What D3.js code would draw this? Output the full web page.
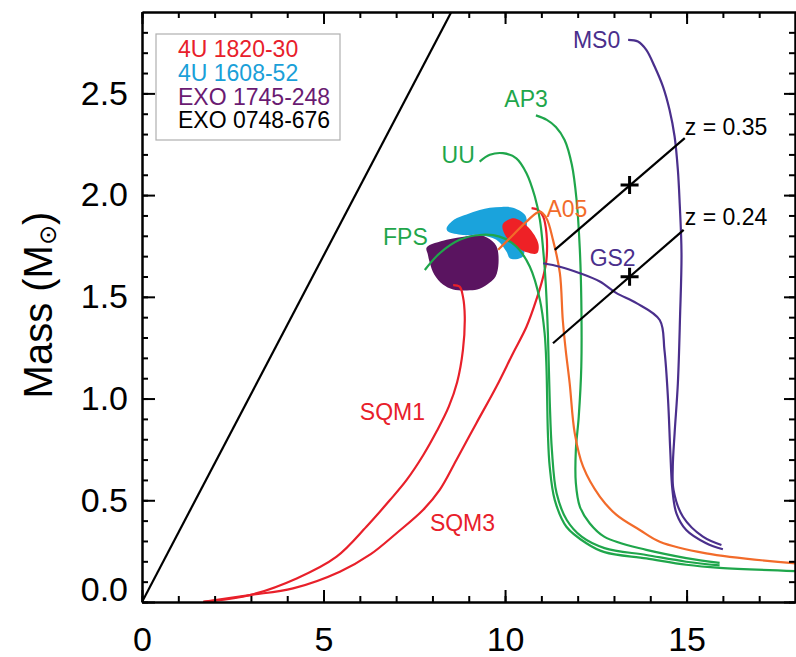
<!DOCTYPE html>
<meta charset="utf-8">
<style>
body { margin: 0; background: #fff; }
svg { font-family: "Liberation Sans", Helvetica, Arial, sans-serif; }
.axis path, .axis line { stroke: #000; stroke-width: 2; }
.axis text { font-size: 34px; fill: #000; }
.curve { fill: none; stroke-width: 2.2; }
.lbl { font-size: 23px; }
</style>
<svg width="796" height="657"></svg>
<script src="https://d3js.org/d3.v7.min.js"></script>
<script>

// radius (km) / mass (Msun) pairs
var sqm1 = [[8.57,1.558],[8.75,1.55],[8.84,1.501],[8.89,1.403],[8.84,1.239],[8.68,1.08],[8.45,0.96],[8.12,0.84],
  [7.74,0.72],[7.29,0.6],[6.83,0.501],[6.18,0.37],[5.36,0.223],[4.26,0.116],[2.97,0.034],[1.69,0.001]];
var sqm3 = [[10.73,1.936],[10.91,1.927],[11.05,1.894],[11.14,1.813],[11.14,1.681],[11.05,1.599],[10.86,1.485],
  [10.59,1.353],[10.22,1.223],[9.76,1.058],[9.21,0.879],[8.66,0.698],[8.2,0.551],[7.74,0.452],[7.01,0.338],
  [6.3,0.235],[5.45,0.149],[4.16,0.067],[2.97,0.034],[1.69,0.001]];
var uu = [[9.3,2.165],[9.58,2.198],[9.94,2.206],[10.31,2.181],[10.59,2.108],[10.82,1.993],[10.96,1.878],[11.05,1.731],
  [11.12,1.567],[11.18,1.321],[11.23,0.993],[11.29,0.747],[11.42,0.534],[11.7,0.403],[12.11,0.321],[12.74,0.265],
  [13.89,0.231],[14.99,0.198],[15.91,0.18]];
var fps = [[7.79,1.632],[8.2,1.714],[8.75,1.78],[9.3,1.804],[9.85,1.796],[10.31,1.747],[10.68,1.649],[10.96,1.485],
  [11.09,1.321],[11.14,1.157],[11.16,0.993],[11.18,0.829],[11.23,0.665],[11.37,0.501],[11.69,0.37],[12.24,0.289],
  [12.74,0.245],[13.89,0.214],[14.99,0.183],[15.91,0.168],[18.0,0.152]];
var ap3 = [[10.85,2.392],[11.15,2.37],[11.4,2.335],[11.64,2.271],[11.84,2.149],[11.97,1.976],[12.06,1.731],[12.1,1.485],
  [12.1,1.157],[12.03,0.911],[11.95,0.747],[11.95,0.584],[12.06,0.469],[12.33,0.387],[12.74,0.32],[13.89,0.256],
  [14.99,0.216],[15.91,0.192]];
var a05 = [[9.81,1.731],[10.22,1.804],[10.59,1.87],[10.96,1.919],[11.14,1.886],[11.32,1.78],[11.51,1.616],[11.59,1.386],
  [11.67,1.239],[11.78,1.075],[11.92,0.829],[12.15,0.665],[12.61,0.518],[13.07,0.428],[13.71,0.354],[14.26,0.296],
  [15.54,0.239],[18.0,0.19]];
var ms0 = [[13.39,2.763],[13.66,2.755],[13.89,2.714],[14.12,2.632],[14.35,2.533],[14.53,2.419],[14.67,2.288],[14.76,2.124],
  [14.81,1.96],[14.86,1.714],[14.82,1.403],[14.76,1.075],[14.67,0.829],[14.62,0.665],[14.64,0.551],[14.9,0.419],
  [15.45,0.321],[15.96,0.28]];
var gs2 = [[11.05,1.665],[11.51,1.648],[12.06,1.616],[12.61,1.575],[13.07,1.518],[13.62,1.469],[14.26,1.386],[14.39,1.239],
  [14.49,0.993],[14.55,0.747],[14.61,0.551],[14.72,0.436],[14.99,0.354],[15.54,0.289],[16.0,0.259]];
var causal = [[0,0],[8.52,2.9]];
var zLine35 = [[11.37,1.731],[14.95,2.28]];
var zLine24 = [[11.32,1.272],[14.92,1.829]];
var plusMarks = [[13.43,2.05],[13.43,1.599]];

// measured source regions
var src1608 = [[8.39,1.837],[8.6,1.88],[8.94,1.905],[9.3,1.927],[9.58,1.938],[9.9,1.942],[10.22,1.938],[10.54,1.905],
  [10.6,1.875],[10.57,1.8],[10.54,1.74],[10.5,1.7],[10.3,1.685],[10.13,1.69],[10.04,1.722],[9.76,1.78],[9.3,1.804],
  [8.84,1.804],[8.43,1.821]];
var src1745 = [[7.84,1.742],[8.39,1.78],[8.94,1.798],[9.21,1.805],[9.5,1.792],[9.76,1.75],[9.82,1.665],[9.74,1.6],
  [9.58,1.57],[9.3,1.54],[9.03,1.532],[8.57,1.536],[8.29,1.56],[8.05,1.61],[7.93,1.665],[7.87,1.71]];
var src1820 = [[9.94,1.858],[10.24,1.886],[10.64,1.842],[10.92,1.76],[10.88,1.714],[10.6,1.719],[10.18,1.765],[9.96,1.819]];

var legendNames = ["4U 1820-30", "4U 1608-52", "EXO 1745-248", "EXO 0748-676"];
var legendColors = ["#e8202a", "#1aa0d8", "#6a1b72", "#000"];

var curveLabels = [
  {t: "SQM1", x: 6.0, y: 0.895, c: "#e8202a"},
  {t: "SQM3", x: 7.93, y: 0.35, c: "#e8202a"},
  {t: "UU", x: 8.25, y: 2.157, c: "#1fa64b"},
  {t: "FPS", x: 6.64, y: 1.755, c: "#1fa64b"},
  {t: "AP3", x: 9.98, y: 2.434, c: "#1fa64b"},
  {t: "A05", x: 11.14, y: 1.893, c: "#f26b2a"},
  {t: "MS0", x: 11.87, y: 2.724, c: "#4a2f8c"},
  {t: "GS2", x: 12.33, y: 1.652, c: "#4a2f8c"},
  {t: "z = 0.35", x: 14.95, y: 2.296, c: "#000"},
  {t: "z = 0.24", x: 14.95, y: 1.853, c: "#000"}
];

var xMajor = [0, 5, 10, 15];
var yMajor = [0, 0.5, 1.0, 1.5, 2.0, 2.5];

var svg = d3.select("svg");

var x = d3.scaleLinear().domain([0, 18]).range([142, 795.5]);
var y = d3.scaleLinear().domain([0, 2.9]).range([602, 12]);

svg.append("clipPath").attr("id", "plot")
  .append("rect").attr("x", 142).attr("y", 12).attr("width", 654).attr("height", 590);

var plot = svg.append("g").attr("clip-path", "url(#plot)");

var line = d3.line().x(function(d) { return x(d[0]); }).y(function(d) { return y(d[1]); })
  .curve(d3.curveCatmullRom.alpha(0.5));
var blob = d3.line().x(function(d) { return x(d[0]); }).y(function(d) { return y(d[1]); })
  .curve(d3.curveCatmullRomClosed.alpha(0.5));
var straight = d3.line().x(function(d) { return x(d[0]); }).y(function(d) { return y(d[1]); });

plot.append("path").attr("d", blob(src1608)).attr("fill", "#1aa3dc");
plot.append("path").attr("d", blob(src1745)).attr("fill", "#5a1460");
plot.append("path").attr("d", blob(src1820)).attr("fill", "#ee2126");

var curves = [
  [sqm1, "#e8202a"], [sqm3, "#e8202a"],
  [uu, "#1fa64b"], [fps, "#1fa64b"], [ap3, "#1fa64b"],
  [a05, "#f26b2a"], [ms0, "#4a2f8c"], [gs2, "#4a2f8c"]
];
plot.selectAll(".curve").data(curves).enter().append("path")
  .attr("class", "curve")
  .attr("d", function(d) { return line(d[0]); })
  .attr("stroke", function(d) { return d[1]; });

[causal, zLine35, zLine24].forEach(function(d) {
  plot.append("path").attr("d", straight(d)).attr("fill", "none").attr("stroke", "#000").attr("stroke-width", 2.2);
});

plot.selectAll(".plus").data(plusMarks).enter().append("path")
  .attr("class", "plus")
  .attr("d", function(d) {
    var px = x(d[0]), py = y(d[1]);
    return "M" + (px - 9) + "," + py + "H" + (px + 9) + "M" + px + "," + (py - 9) + "V" + (py + 9);
  })
  .attr("stroke", "#000").attr("stroke-width", 3);

plot.selectAll(".lbl").data(curveLabels).enter().append("text")
  .attr("class", "lbl")
  .attr("x", function(d) { return x(d.x); })
  .attr("y", function(d) { return y(d.y); })
  .attr("fill", function(d) { return d.c; })
  .text(function(d) { return d.t; });

// legend
var leg = svg.append("g");
leg.append("rect").attr("x", 156).attr("y", 34).attr("width", 184).attr("height", 106)
  .attr("fill", "#fff").attr("stroke", "#b0b0b0").attr("stroke-width", 1.2);
leg.selectAll("text").data(legendNames).enter().append("text")
  .attr("x", 178)
  .attr("y", function(d, i) { return 57 + i * 23.8; })
  .attr("font-size", 23)
  .attr("fill", function(d, i) { return legendColors[i]; })
  .text(function(d) { return d; });

// axes (ticks point inward on all four sides)
svg.append("g").attr("class", "axis").attr("transform", "translate(0,602)")
  .call(d3.axisBottom(x).tickValues(d3.range(0, 19)).tickSize(-6).tickSizeOuter(0).tickFormat(""));
svg.append("g").attr("class", "axis").attr("transform", "translate(0,602)")
  .call(d3.axisBottom(x).tickValues(xMajor).tickSize(-12).tickSizeOuter(0).tickPadding(25).tickFormat(d3.format("d")));
svg.append("g").attr("class", "axis").attr("transform", "translate(0,12)")
  .call(d3.axisTop(x).tickValues(d3.range(0, 19)).tickSize(-6).tickSizeOuter(0).tickFormat(""));
svg.append("g").attr("class", "axis").attr("transform", "translate(0,12)")
  .call(d3.axisTop(x).tickValues(xMajor).tickSize(-12).tickSizeOuter(0).tickFormat(""));

var yMinor = d3.range(0, 29).map(function(i) { return i / 10; });
svg.append("g").attr("class", "axis").attr("transform", "translate(142,0)")
  .call(d3.axisLeft(y).tickValues(yMinor).tickSize(-6).tickSizeOuter(0).tickFormat(""));
var yl = svg.append("g").attr("class", "axis").attr("transform", "translate(142,0)")
  .call(d3.axisLeft(y).tickValues(yMajor).tickSize(-13).tickSizeOuter(0).tickPadding(14).tickFormat(d3.format(".1f")));
yl.selectAll(".tick text").filter(function(d) { return d === 0; }).attr("dy", "-0.03em");
svg.append("g").attr("class", "axis").attr("transform", "translate(795,0)")
  .call(d3.axisRight(y).tickValues(yMinor).tickSize(-6).tickSizeOuter(0).tickFormat(""));
svg.append("g").attr("class", "axis").attr("transform", "translate(795,0)")
  .call(d3.axisRight(y).tickValues(yMajor).tickSize(-11).tickSizeOuter(0).tickFormat(""));
svg.selectAll(".axis text").attr("font-family", null);

// y title
var yt = svg.append("text")
  .attr("transform", "translate(52,305) rotate(-90)")
  .attr("text-anchor", "middle")
  .attr("font-size", 40)
  .attr("fill", "#000");
yt.append("tspan").text("Mass (M");
yt.append("tspan").attr("font-size", 24).attr("dy", 4).attr("font-family", "DejaVu Sans").text("\u2299");
yt.append("tspan").attr("dy", -4).text(")");

</script>
